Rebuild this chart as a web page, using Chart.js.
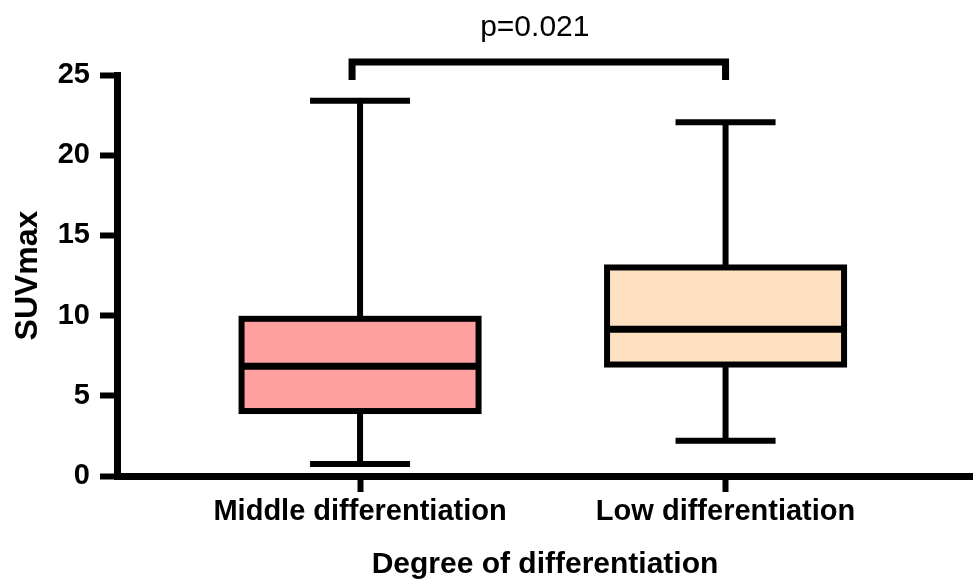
<!DOCTYPE html>
<html>
<head>
<meta charset="utf-8">
<script src="https://cdn.jsdelivr.net/npm/chart.js@4/dist/chart.umd.min.js"></script>
<style>
  html, body { margin: 0; padding: 0; background: #fff; }
  #wrap { width: 973px; height: 583px; }
</style>
</head>
<body>
<div id="wrap"><canvas id="box"></canvas></div>
<script>
// box plot values
const categories = ['Middle differentiation', 'Low differentiation'];
const xPos = [1, 2];
const mins = [0.75, 2.2];
const q1 = [4.05, 6.95];
const medians = [6.85, 9.15];
const q3 = [9.8, 13.0];
const maxs = [23.4, 22.05];
const fills = ['#FFA0A0', '#FFE0C0'];
const yTicks = [0, 5, 10, 15, 20, 25];
const pLabel = 'p=0.021';

const FONT = '"Liberation Sans", Arial, sans-serif';

const boxPlot = {
    id: 'boxPlot',
    afterDatasetsDraw(chart) {
        const ctx = chart.ctx;
        const x = chart.scales.x, y = chart.scales.y;
        const bars = chart.getDatasetMeta(0).data;
        ctx.save();
        ctx.strokeStyle = '#000';
        ctx.lineCap = 'butt';
        bars.forEach((bar, i) => {
            const cx = x.getPixelForValue(xPos[i]);
            const half = bar.width / 2;
            // whiskers
            ctx.lineWidth = 6;
            ctx.beginPath();
            ctx.moveTo(cx, y.getPixelForValue(q3[i]));
            ctx.lineTo(cx, y.getPixelForValue(maxs[i]));
            ctx.moveTo(cx, y.getPixelForValue(q1[i]));
            ctx.lineTo(cx, y.getPixelForValue(mins[i]));
            ctx.moveTo(cx - 50, y.getPixelForValue(maxs[i]));
            ctx.lineTo(cx + 50, y.getPixelForValue(maxs[i]));
            ctx.moveTo(cx - 50, y.getPixelForValue(mins[i]));
            ctx.lineTo(cx + 50, y.getPixelForValue(mins[i]));
            ctx.stroke();
            // box outline
            const top = y.getPixelForValue(q3[i]);
            const bot = y.getPixelForValue(q1[i]);
            ctx.lineJoin = 'miter';
            ctx.strokeRect(cx - half, top, half * 2, bot - top);
            // median
            ctx.lineWidth = 7;
            ctx.beginPath();
            ctx.moveTo(cx - half, y.getPixelForValue(medians[i]));
            ctx.lineTo(cx + half, y.getPixelForValue(medians[i]));
            ctx.stroke();
        });
        // significance bracket
        const x1 = x.getPixelForValue(xPos[0]) - 8;
        const x2 = x.getPixelForValue(xPos[1]);
        const yb = chart.chartArea.top - 13;
        ctx.lineWidth = 7;
        ctx.beginPath();
        ctx.moveTo(x1, chart.chartArea.top + 5);
        ctx.lineTo(x1, yb);
        ctx.lineTo(x2, yb);
        ctx.lineTo(x2, chart.chartArea.top + 5);
        ctx.stroke();
        ctx.fillStyle = '#000';
        ctx.font = '30px ' + FONT;
        ctx.textAlign = 'center';
        ctx.textBaseline = 'middle';
        ctx.fillText(pLabel, (x1 + x2) / 2 - 4, 28);
        ctx.restore();
    }
};

new Chart(document.getElementById('box').getContext('2d'), {
    type: 'bar',
    data: {
        datasets: [{
            data: xPos.map((v, i) => ({x: v, y: [q1[i], q3[i]]})),
            backgroundColor: fills,
            borderWidth: 0,
            barThickness: 237
        }]
    },
    options: {
        responsive: true,
        maintainAspectRatio: false,
        animation: false,
        layout: {padding: {top: 75, right: 0, left: 0, bottom: 0}},
        plugins: {legend: {display: false}, tooltip: {enabled: false}},
        scales: {
            x: {
                type: 'linear',
                offset: false,
                min: 0.335,
                max: 2.677,
                afterBuildTicks: s => { s.ticks = xPos.map(v => ({value: v})); },
                afterFit: s => { s.height = 107; },
                grid: {offset: false, drawOnChartArea: false, drawTicks: true, tickLength: 16, tickWidth: 6, color: '#000'},
                border: {display: true, width: 7, color: '#000'},
                ticks: {
                    autoSkip: false,
                    maxRotation: 0,
                    padding: 3,
                    color: '#000',
                    font: {family: FONT, size: 29, weight: 'bold'},
                    callback: v => categories[xPos.indexOf(v)]
                },
                title: {
                    display: true,
                    text: 'Degree of differentiation',
                    color: '#000',
                    font: {family: FONT, size: 30, weight: 'bold'},
                    padding: {top: 0, bottom: 0}
                }
            },
            y: {
                min: 0,
                max: 25,
                afterBuildTicks: s => { s.ticks = yTicks.map(v => ({value: v})); },
                afterFit: s => { s.width = 117; },
                grid: {drawOnChartArea: false, drawTicks: true, tickLength: 17, tickWidth: 6, color: '#000'},
                border: {display: true, width: 7, color: '#000'},
                ticks: {
                    padding: 10,
                    color: '#000',
                    font: {family: FONT, size: 29, weight: 'bold'}
                },
                title: {
                    display: true,
                    text: 'SUVmax',
                    color: '#000',
                    font: {family: FONT, size: 32, weight: 'bold'},
                    padding: {top: 9, bottom: 0}
                }
            }
        }
    },
    plugins: [boxPlot]
});
</script>
</body>
</html>
